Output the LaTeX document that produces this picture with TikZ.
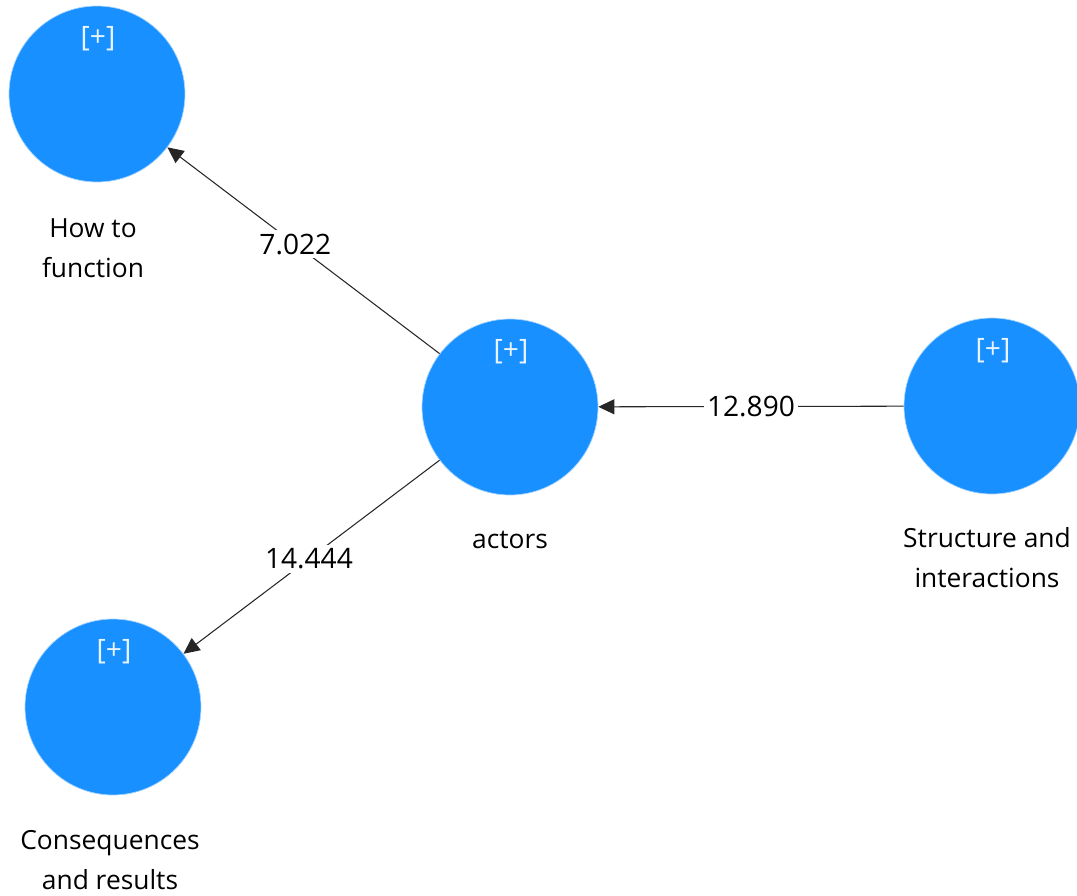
\documentclass[tikz,border=0pt]{standalone}
\usepackage{fontspec}
\setmainfont{Open Sans}
\usetikzlibrary{arrows.meta}
\definecolor{lvblue}{HTML}{1890FF}
\newcommand*{\LatentSize}{3.52cm}
\tikzset{
  latent/.style={circle, fill=lvblue, draw=lvblue!40!white, line width=0.4pt,
    minimum size=\LatentSize, inner sep=0pt},
  plus/.style={text=white!90!lvblue, font=\fontsize{16}{18}\selectfont},
  caption/.style={align=center, font=\fontsize{15}{22.7}\selectfont},
  path/.style={draw=black!85, line width=0.6pt,
    -{Triangle[length=0.32cm,width=0.3cm]}},
  coef/.style={fill=white, inner sep=2pt, font=\fontsize{16}{18}\selectfont}
}

\begin{document}
\begin{tikzpicture}[x=0.02cm,y=-0.02cm]
    \useasboundingbox (0,0) rectangle (1077,895);
    % latent variables
    \foreach \name/\x/\y in {how/97/94,actors/510/407,struct/992/406,cons/113/707} {
      \node [latent] (\name) at (\x,\y) {};
      \node [plus] (\name-plus) at (\x+1,\y-55) {[+]};
    }
    \node [caption] (how-cap) at (93,248) {How to\\function};
    \node [caption] (actors-cap) at (510,540) {actors};
    \node [caption] (struct-cap) at (987,558) {Structure and\\interactions};
    \node [caption] (cons-cap) at (110,860) {Consequences\\and results};

    % structural paths
    \draw [path] (actors) -- node [coef, pos=0.53] (c1) {7.022} (how);
    \draw [path] (actors) -- node [coef, pos=0.51] (c2) {14.444} (cons);
    \draw [path] (struct) -- node [coef, pos=0.5] (c3) {12.890} (actors);

\end{tikzpicture}
\end{document}
